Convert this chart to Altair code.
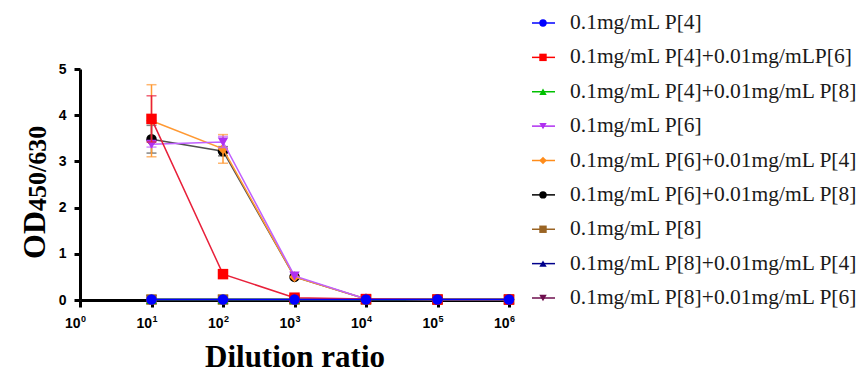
import altair as alt
import pandas as pd

# ---------------- data ----------------
x_values = [10, 100, 1000, 10000, 100000, 1000000]

series_names = [
    "0.1mg/mL P[4]",
    "0.1mg/mL P[4]+0.01mg/mLP[6]",
    "0.1mg/mL P[4]+0.01mg/mL P[8]",
    "0.1mg/mL P[6]",
    "0.1mg/mL P[6]+0.01mg/mL P[4]",
    "0.1mg/mL P[6]+0.01mg/mL P[8]",
    "0.1mg/mL P[8]",
    "0.1mg/mL P[8]+0.01mg/mL P[4]",
    "0.1mg/mL P[8]+0.01mg/mL P[6]",
]

y_p4 = [0.01, 0.01, 0.01, 0.01, 0.01, 0.01]
y_p4_p6 = [3.92, 0.56, 0.05, 0.02, 0.01, 0.01]
y_p4_p8 = [0.01, 0.01, 0.01, 0.01, 0.01, 0.01]
y_p6 = [3.37, 3.42, 0.52, 0.02, 0.01, 0.01]
y_p6_p4 = [3.88, 3.27, 0.50, 0.02, 0.01, 0.01]
y_p6_p8 = [3.48, 3.22, 0.50, 0.02, 0.01, 0.01]
y_p8 = [0.01, 0.01, 0.01, 0.01, 0.01, 0.01]
y_p8_p4 = [0.01, 0.01, 0.01, 0.01, 0.01, 0.01]
y_p8_p6 = [0.01, 0.01, 0.01, 0.01, 0.01, 0.01]

e_p4 = [0, 0, 0, 0, 0, 0]
e_p4_p6 = [0.50, 0.05, 0, 0, 0, 0]
e_p4_p8 = [0, 0, 0, 0, 0, 0]
e_p6 = [0.06, 0.12, 0, 0, 0, 0]
e_p6_p4 = [0.78, 0.31, 0, 0, 0, 0]
e_p6_p8 = [0.30, 0.10, 0, 0, 0, 0]
e_p8 = [0, 0, 0, 0, 0, 0]
e_p8_p4 = [0, 0, 0, 0, 0, 0]
e_p8_p6 = [0, 0, 0, 0, 0, 0]

x_tick_values = [1, 10, 100, 1000, 10000, 100000, 1000000]
x_tick_base = "10"
x_tick_exponents = ["0", "1", "2", "3", "4", "5", "6"]
y_tick_values = [0, 1, 2, 3, 4, 5]

series_values = [y_p4, y_p4_p6, y_p4_p8, y_p6, y_p6_p4, y_p6_p8, y_p8, y_p8_p4, y_p8_p6]
series_errors = [e_p4, e_p4_p6, e_p4_p8, e_p6, e_p6_p4, e_p6_p8, e_p8, e_p8_p4, e_p8_p6]

# ---------------- styles ----------------
colors = ["#0000FF", "#FF0000", "#00C000", "#B030F0", "#FF8C1A",
          "#000000", "#9A6424", "#00008C", "#6E0F4E"]
line_colors = ["#0000FF", "#E8203A", "#00C000", "#C060FF", "#FF9933",
               "#505050", "#9A6424", "#00008C", "#6E0F4E"]
shapes = ["circle", "square", "triangle-up", "triangle-down", "diamond",
          "circle", "square", "triangle-up", "triangle-down"]

W, H = 429, 231

xscale = alt.Scale(type="log", domain=[1, 1000000])
yscale = alt.Scale(domain=[0, 5])

x_axis = alt.Axis(values=x_tick_values, labelExpr=f"'{x_tick_base}'", title="Dilution ratio",
                  titleFont="Liberation Serif", titleFontSize=31, titleFontWeight="bold",
                  titleColor="black", titlePadding=12,
                  labelFont="Liberation Sans", labelFontWeight="bold", labelFontSize=14,
                  labelColor="black", labelPadding=9, labelAlign="right",
                  labelFlush=False, labelOverlap=False,
                  tickSize=7, tickWidth=3, tickColor="black",
                  domainWidth=3, domainColor="black", grid=False)
y_axis = alt.Axis(values=y_tick_values, title="",
                  labelFont="Liberation Sans", labelFontWeight="bold", labelFontSize=14,
                  labelColor="black", labelPadding=8,
                  tickSize=6, tickWidth=3, tickColor="black",
                  domainWidth=3, domainColor="black", grid=False)

layers = []
# y-axis title with subscript
blank = alt.Data(values=[{}])
layers.append(alt.Chart(blank).mark_text(
    text="OD", angle=270, align="left", baseline="alphabetic",
    font="Liberation Serif", fontSize=32, fontWeight="bold", color="black"
).encode(x=alt.value(-35), y=alt.value(190)))
layers.append(alt.Chart(blank).mark_text(
    text="450/630", angle=270, align="left", baseline="alphabetic",
    font="Liberation Serif", fontSize=26, fontWeight="bold", color="black"
).encode(x=alt.value(-34), y=alt.value(142)))

# tick-label exponents
exp_df = pd.DataFrame({"v": x_tick_values, "t": x_tick_exponents})
layers.append(alt.Chart(exp_df).mark_text(
    align="left", baseline="alphabetic", dx=1, font="Liberation Sans",
    fontSize=9, fontWeight="bold", color="black"
).encode(x=alt.X("v:Q", scale=xscale, axis=x_axis), y=alt.value(H + 22), text="t:N"))

for i in reversed(range(len(series_names))):
    df = pd.DataFrame({"x": x_values, "y": series_values[i], "e": series_errors[i]})
    df["lo"] = df["y"] - df["e"]
    df["hi"] = df["y"] + df["e"]
    X = alt.X("x:Q", scale=xscale, axis=x_axis)
    dfe = df[df["e"] > 0]
    if len(dfe):
        eb = alt.Chart(dfe)
        layers.append(eb.mark_rule(color=line_colors[i], strokeWidth=1.5).encode(
            x=X, y=alt.Y("lo:Q", scale=yscale, axis=y_axis), y2="hi:Q"))
        layers.append(eb.mark_tick(color=line_colors[i], orient="horizontal", size=10, thickness=1.5).encode(
            x=X, y=alt.Y("hi:Q", scale=yscale, axis=y_axis)))
        layers.append(eb.mark_tick(color=line_colors[i], orient="horizontal", size=10, thickness=1.5).encode(
            x=X, y=alt.Y("lo:Q", scale=yscale, axis=y_axis)))
    base = alt.Chart(df)
    layers.append(base.mark_line(color=line_colors[i], strokeWidth=1.5).encode(
        x=X, y=alt.Y("y:Q", scale=yscale, axis=y_axis)))
    layers.append(base.mark_point(shape=shapes[i], filled=True, size=110, color=colors[i], opacity=1).encode(
        x=X, y=alt.Y("y:Q", scale=yscale, axis=y_axis)))

main = alt.layer(*layers)

# ---------------- custom legend ----------------
leg_df = pd.DataFrame({"series": series_names})
yleg = alt.Y("series:N", scale=alt.Scale(type="point", domain=series_names, range=[-46, 229], padding=0), axis=None)
cleg = alt.Color("series:N", scale=alt.Scale(domain=series_names, range=colors), legend=None)
sleg = alt.Shape("series:N", scale=alt.Scale(domain=series_names, range=shapes), legend=None)
lb = alt.Chart(leg_df)
legend = alt.layer(
    lb.mark_rule(strokeWidth=1.5).encode(x=alt.value(452), x2=alt.value(475), y=yleg, color=cleg),
    lb.mark_point(filled=True, size=55, opacity=1).encode(x=alt.value(463), y=yleg, color=cleg, shape=sleg),
    lb.mark_text(align="left", baseline="middle", font="Liberation Serif", fontSize=21.5,
                 color="#1a1a1a").encode(x=alt.value(490), y=yleg, text="series:N"),
)

chart = alt.layer(main, legend).resolve_scale(
    y="independent", color="independent", shape="independent"
).properties(
    width=W, height=H,
    autosize=alt.AutoSizeParams(type="none"),
    padding={"left": 72, "top": 61, "right": 351, "bottom": 73},
).configure_view(stroke=None)

chart.save("out.html", embed_options={"renderer": "svg", "actions": False})
